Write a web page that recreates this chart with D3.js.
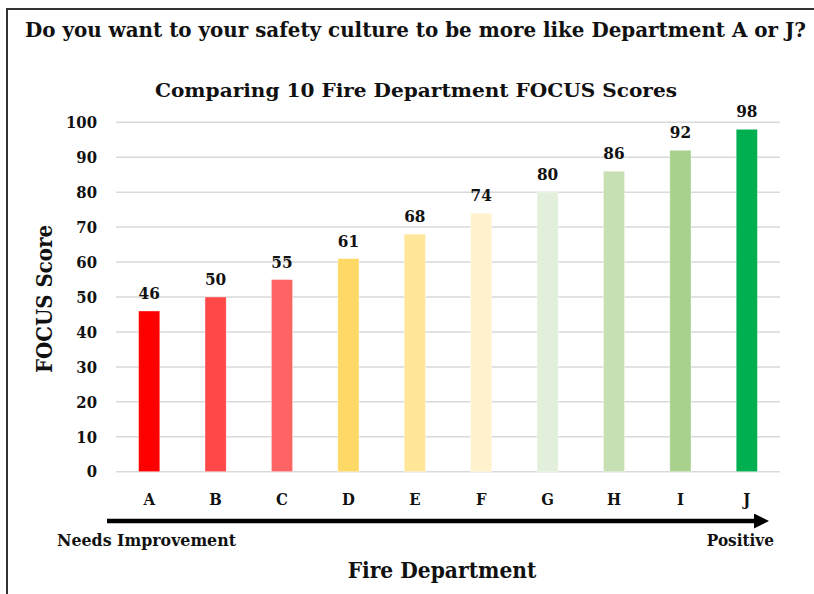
<!DOCTYPE html>
<html>
<head>
<meta charset="utf-8">
<script src="https://cdn.jsdelivr.net/npm/d3@7"></script>
<style>
  body { margin: 0; background: #fff; }
  text { font-family: 'DejaVu Serif Condensed', 'DejaVu Serif', serif; font-weight: bold; fill: #111; }
</style>
</head>
<body>
<div id="chart"></div>
<script>
const departments = ['A', 'B', 'C', 'D', 'E', 'F', 'G', 'H', 'I', 'J'];
const scores = [46, 50, 55, 61, 68, 74, 80, 86, 92, 98];
const barColors = ['#FF0000', '#FF4848', '#FF6363', '#FFD966', '#FFE699',
  '#FFF2CC', '#E2EFDA', '#C6E0B4', '#A9D18E', '#00B050'];
const yTicks = [0, 10, 20, 30, 40, 50, 60, 70, 80, 90, 100];

const size = { width: 814, height: 594 };
const plot = { left: 116, right: 780, top: 122.3, bottom: 471.7 };

const data = departments.map((d, i) => ({ dept: d, score: scores[i], color: barColors[i] }));

const svg = d3.select('#chart').append('svg')
  .attr('width', size.width)
  .attr('height', size.height);

// frame
svg.append('rect')
  .attr('x', 7).attr('y', 9)
  .attr('width', 820).attr('height', 600)
  .attr('fill', 'none')
  .attr('stroke', '#333')
  .attr('stroke-width', 2);

svg.append('text')
  .attr('x', 25).attr('y', 37)
  .attr('textLength', 781).attr('lengthAdjust', 'spacingAndGlyphs')
  .style('font-size', '21px')
  .text('Do you want to your safety culture to be more like Department A or J?');

svg.append('text')
  .attr('x', 155).attr('y', 97)
  .attr('textLength', 522).attr('lengthAdjust', 'spacingAndGlyphs')
  .style('font-size', '19px')
  .text('Comparing 10 Fire Department FOCUS Scores');

const x = d3.scaleBand()
  .domain(departments)
  .range([plot.left, plot.right])
  .paddingInner(0.68)
  .paddingOuter(0.34);

const y = d3.scaleLinear()
  .domain([0, 100])
  .range([plot.bottom, plot.top]);

// gridlines
svg.append('g')
  .selectAll('line')
  .data(yTicks)
  .join('line')
  .attr('x1', plot.left)
  .attr('x2', plot.right)
  .attr('y1', (d) => y(d))
  .attr('y2', (d) => y(d))
  .attr('stroke', '#d9d9d9')
  .attr('stroke-width', 1.5);

// y axis labels
const yAxis = svg.append('g')
  .attr('transform', `translate(${plot.left}, 0)`)
  .call(d3.axisLeft(y).tickValues(yTicks).tickSize(0).tickPadding(19));
yAxis.select('.domain').remove();
yAxis.selectAll('text')
  .style('font-size', '16.5px')
  .style('font-family', "'DejaVu Serif Condensed', 'DejaVu Serif', serif")
  .attr('fill', '#111');

// bars
svg.append('g')
  .selectAll('rect')
  .data(data)
  .join('rect')
  .attr('x', (d) => x(d.dept))
  .attr('y', (d) => y(d.score))
  .attr('width', x.bandwidth())
  .attr('height', (d) => y(0) - y(d.score))
  .attr('fill', (d) => d.color)
  .attr('stroke', 'rgba(255,255,255,0.5)')
  .attr('stroke-width', 0.8);

// value labels
svg.append('g')
  .selectAll('text')
  .data(data)
  .join('text')
  .attr('x', (d) => x(d.dept) + x.bandwidth() / 2)
  .attr('y', (d) => y(d.score) - 12)
  .attr('text-anchor', 'middle')
  .style('font-size', '17px')
  .text((d) => d.score);

// x axis labels
const xAxis = svg.append('g')
  .attr('transform', `translate(0, ${plot.bottom})`)
  .call(d3.axisBottom(x).tickSize(0).tickPadding(22));
xAxis.select('.domain').remove();
xAxis.selectAll('text')
  .style('font-size', '16.5px')
  .style('font-family', "'DejaVu Serif Condensed', 'DejaVu Serif', serif")
  .attr('fill', '#111');

// arrow
svg.append('defs').append('marker')
  .attr('id', 'arrowhead')
  .attr('viewBox', '0 0 10 10')
  .attr('refX', 0).attr('refY', 5)
  .attr('markerUnits', 'userSpaceOnUse')
  .attr('markerWidth', 15).attr('markerHeight', 15)
  .attr('orient', 'auto')
  .append('path')
  .attr('d', 'M0,0 L10,5 L0,10 Z')
  .attr('fill', '#000');

svg.append('line')
  .attr('x1', 107).attr('x2', 754)
  .attr('y1', 521).attr('y2', 521)
  .attr('stroke', '#000')
  .attr('stroke-width', 4.5)
  .attr('marker-end', 'url(#arrowhead)');

svg.append('text')
  .attr('x', 57).attr('y', 546)
  .attr('textLength', 179).attr('lengthAdjust', 'spacingAndGlyphs')
  .style('font-size', '17px')
  .text('Needs Improvement');

svg.append('text')
  .attr('x', 774).attr('y', 546)
  .attr('text-anchor', 'end')
  .style('font-size', '17px')
  .text('Positive');

svg.append('text')
  .attr('x', 442).attr('y', 578)
  .attr('text-anchor', 'middle')
  .style('font-size', '22.5px')
  .text('Fire Department');

svg.append('text')
  .attr('transform', 'translate(52, 299) rotate(-90)')
  .attr('text-anchor', 'middle')
  .style('font-size', '22px')
  .text('FOCUS Score');
</script>
</body>
</html>
